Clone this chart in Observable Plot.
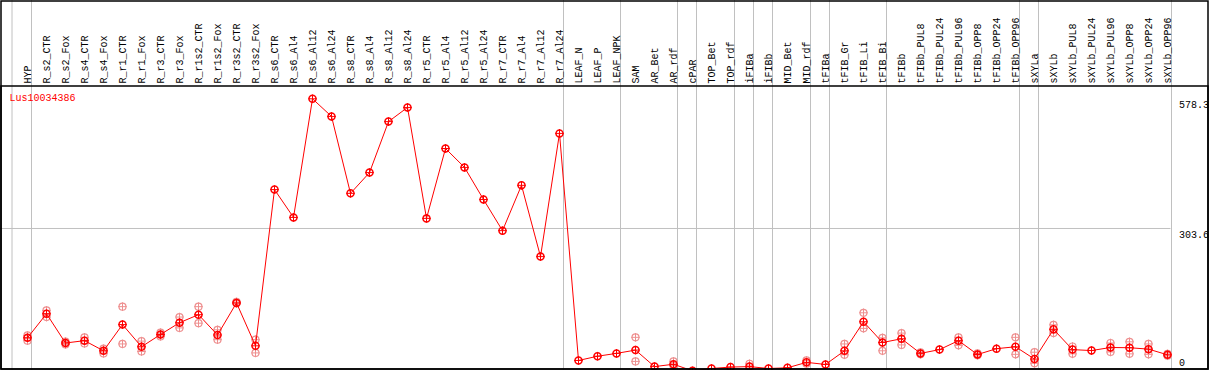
<!DOCTYPE html>
<html>
<head>
<meta charset="utf-8">
<script src="https://cdn.jsdelivr.net/npm/d3@7"></script>
<script src="https://cdn.jsdelivr.net/npm/@observablehq/plot@0.6"></script>
<style>
  html, body { margin: 0; padding: 0; background: #fff; }
  svg { display: block; background: #fff; }
</style>
</head>
<body>
<div id="chart"></div>
<script>
const geneName = "Lus10034386";

const categories = [
  "HYP",
  "R_s2_CTR","R_s2_Fox","R_s4_CTR","R_s4_Fox","R_r1_CTR","R_r1_Fox","R_r3_CTR","R_r3_Fox",
  "R_r1s2_CTR","R_r1s2_Fox","R_r3s2_CTR","R_r3s2_Fox",
  "R_s6_CTR","R_s6_Al4","R_s6_Al12","R_s6_Al24","R_s8_CTR","R_s8_Al4","R_s8_Al12","R_s8_Al24",
  "R_r5_CTR","R_r5_Al4","R_r5_Al12","R_r5_Al24","R_r7_CTR","R_r7_Al4","R_r7_Al12","R_r7_Al24",
  "LEAF_N","LEAF_P","LEAF_NPK",
  "SAM","AR_Bet","AR_rdf","cPAR","TOP_Bet","TOP_rdf","iFIBa","iFIBb","MID_Bet","MID_rdf",
  "tFIBa","tFIB_Gr","tFIB_Li","tFIB_Bi",
  "tFIBb","tFIBb_PUL8","tFIBb_PUL24","tFIBb_PUL96","tFIBb_OPP8","tFIBb_OPP24","tFIBb_OPP96",
  "sXYLa","sXYLb","sXYLb_PUL8","sXYLb_PUL24","sXYLb_PUL96","sXYLb_OPP8","sXYLb_OPP24","sXYLb_OPP96"
];

const means = [
  72,
  123,61,66,44.5,100,53,79,104,
  121,78,146,55,
  386,327,578.3,541,378,422,530,560,
  325,473,433,365,299,395,244,505,
  24,33,39,
  46,11,16,2,7,10,11,7,8.5,20,
  15.5,44.5,106,62,
  70,39,47,66,36.6,49,53,
  27,90,47,45,51.5,51,48,36
];

const rep1 = [
  77,
  130,64,73,49,138,65,83,116,
  138,89,148,68,
  null,null,null,null,null,null,null,null,
  null,null,null,null,null,null,null,null,
  null,null,null,
  73,null,22,null,null,null,17,null,null,24,
  null,59,125,72,
  82,41,null,73,39,null,73,
  41.5,99.5,53.6,null,61,63.5,59,38
];

const rep2 = [
  66,
  116,58,60,39,59,43,75,93,
  103,68,145,40,
  null,null,null,null,null,null,null,null,
  null,null,null,null,null,null,null,null,
  null,null,null,
  22,null,13,null,null,null,7,null,null,17,
  null,36,92,44.5,
  57,37,null,56,35,null,37,
  18,82,38,null,42,38,37,34
];

// last category of each group (a separator follows it)
const groupEnds = ["HYP","R_r7_Al24","LEAF_NPK","AR_rdf","cPAR","TOP_rdf","iFIBa","iFIBb",
                   "MID_rdf","tFIBa","tFIB_Bi","tFIBb_OPP96","sXYLa","sXYLb_OPP96"];

const yTicks = [0, 303.6, 578.3];
const yTickLabels = ["0", "303.6", "578.3"];

const meanData = categories.map((c, i) => ({cat: c, value: means[i]}));
const repData = [];
categories.forEach((c, i) => {
  if (rep1[i] != null) repData.push({cat: c, value: rep1[i]});
  if (rep2[i] != null) repData.push({cat: c, value: rep2[i]});
});
const tickData = yTicks.map((v, i) => ({value: v, label: yTickLabels[i]}));

const gray = "#c0c0c0";
const pink = "#ee9090";
const mono = "Liberation Mono";

const chart = Plot.plot({
  width: 1209,
  height: 370,
  marginTop: 0, marginRight: 0, marginBottom: 0, marginLeft: 0,
  x: {type: "point", domain: categories, range: [26.5, 1166.5], padding: 0, align: 0.5, axis: null},
  y: {domain: [0, 578.3], range: [371.3, 98.3], axis: null},
  style: {fontFamily: mono, background: "#fff", overflow: "hidden"},
  marks: [
    Plot.ruleY([303.6], {stroke: gray, strokeWidth: 1, insetRight: 38.5}),
    Plot.ruleX(groupEnds, {x: d => d, dx: 4, stroke: gray, strokeWidth: 1}),
    Plot.ruleX([categories[0]], {x: d => d, dx: -15.5, stroke: gray, strokeWidth: 1}),
    // replicates
    Plot.dot(repData, {x: "cat", y: "value", symbol: "plus", r: 2.9, stroke: pink, strokeWidth: 1}),
    Plot.dot(repData, {x: "cat", y: "value", r: 3.5, stroke: pink, strokeWidth: 1.2, fill: "none"}),
    // mean line
    Plot.line(meanData, {x: "cat", y: "value", stroke: "#ff0000", strokeWidth: 1}),
    Plot.dot(meanData, {x: "cat", y: "value", symbol: "plus", r: 2.9, stroke: "#ff0000", strokeWidth: 1}),
    Plot.dot(meanData, {x: "cat", y: "value", r: 3.5, stroke: "#ff0000", strokeWidth: 1.5, fill: "none"}),
    // header category labels
    Plot.text(categories, {
      x: d => d, text: d => d, frameAnchor: "top", dy: 83,
      rotate: -90, textAnchor: "start", lineAnchor: "middle",
      fontFamily: mono, fontSize: 10, fill: "#000"
    }),
    // gene name
    Plot.text([geneName], {
      text: d => d, frameAnchor: "top-left", dx: 9, dy: 97,
      textAnchor: "start", lineAnchor: "middle",
      fontFamily: mono, fontSize: 10, fill: "#ff0000"
    }),
    // y tick labels
    Plot.text(tickData.filter(d => d.value > 0), {
      x: () => categories[categories.length - 1], y: "value", text: "label",
      dx: 11.5, dy: 2, textAnchor: "start", lineAnchor: "top",
      fontFamily: mono, fontSize: 10, fill: "#000"
    }),
    Plot.text(tickData.filter(d => d.value === 0), {
      x: () => categories[categories.length - 1], y: "value", text: "label",
      dx: 11.5, dy: -6, textAnchor: "start", lineAnchor: "bottom",
      fontFamily: mono, fontSize: 10, fill: "#000"
    }),
    // borders
    Plot.frame({stroke: "#000", strokeWidth: 1.5, insetTop: 0.5, insetLeft: 0.5, insetRight: 1.5, insetBottom: 1.5}),
    Plot.frame({stroke: "#000", strokeWidth: 1.5, insetTop: 85.5, insetLeft: 0.5, insetRight: 1.5, insetBottom: 1.5})
  ]
});

document.getElementById("chart").appendChild(chart);
</script>
</body>
</html>
